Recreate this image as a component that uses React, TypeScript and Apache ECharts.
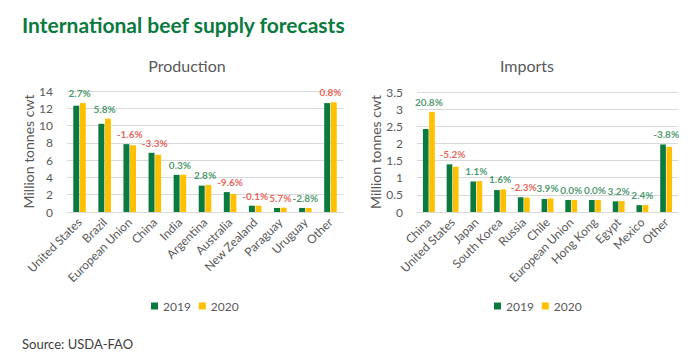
import React, { useEffect, useRef } from "react";
import * as echarts from "echarts";

const productionCategories = ["United States", "Brazil", "European Union", "China", "India", "Argentina", "Australia", "New Zealand", "Paraguay", "Uruguay", "Other"];
const production2019 = [12.3, 10.2, 7.85, 6.85, 4.3, 3.05, 2.3, 0.73, 0.47, 0.47, 12.6];
const production2020 = [12.6, 10.8, 7.72, 6.62, 4.31, 3.13, 2.08, 0.73, 0.5, 0.46, 12.7];
const productionChange = ["2.7%", "5.8%", "-1.6%", "-3.3%", "0.3%", "2.8%", "-9.6%", "-0.1%", "5.7%", "-2.8%", "0.8%"];
const productionChangeGreen = [true, true, false, false, true, true, false, false, false, true, false];

const importCategories = ["China", "United States", "Japan", "South Korea", "Russia", "Chile", "European Union", "Hong Kong", "Egypt", "Mexico", "Other"];
const imports2019 = [2.42, 1.39, 0.89, 0.64, 0.43, 0.38, 0.35, 0.35, 0.31, 0.2, 1.97];
const imports2020 = [2.92, 1.32, 0.9, 0.66, 0.42, 0.395, 0.35, 0.35, 0.32, 0.205, 1.9];
const importChange = ["20.8%", "-5.2%", "1.1%", "1.6%", "-2.3%", "3.9%", "0.0%", "0.0%", "3.2%", "2.4%", "-3.8%"];
const importChangeGreen = [true, false, true, true, false, true, true, true, true, true, true];

const seriesNames = ["2019", "2020"];

const GREEN = "#0a7a3e";
const YELLOW = "#ffc000";
const LABEL_GREEN = "#17804a";
const LABEL_RED = "#e23b30";
const TEXT = "#595959";
const FONT = "Lato, 'Open Sans', sans-serif";

function changeLabels(a: number[], b: number[], texts: string[], green: boolean[]) {
  return a.map((v, i) => ({
    value: Math.max(v, b[i]),
    label: { formatter: texts[i], color: green[i] ? LABEL_GREEN : LABEL_RED },
  }));
}

export default function App() {
  const ref = useRef<HTMLDivElement>(null);
  useEffect(() => {
    if (!ref.current) return;
    const chart = echarts.init(ref.current, undefined, { renderer: "svg" });
    const xAxisCommon = {
      type: "category" as const,
      axisLine: { lineStyle: { color: "#d9d9d9" } },
      axisTick: { show: false },
      axisLabel: { rotate: 45, color: TEXT, fontSize: 12, fontFamily: FONT, margin: 8, interval: 0 },
    };
    const yAxisCommon = {
      type: "value" as const,
      nameLocation: "middle" as const,
      nameTextStyle: { color: TEXT, fontSize: 14, fontFamily: FONT },
      axisLine: { show: false },
      axisTick: { show: false },
      axisLabel: { color: TEXT, fontSize: 12, fontFamily: FONT, margin: 14 },
      splitLine: { lineStyle: { color: "#d9d9d9" } },
    };
    const barCommon = {
      type: "bar" as const,
      barGap: "10%",
      barCategoryGap: "50%",
    };
    const labelScatter = {
      type: "scatter" as const,
      symbolSize: 0,
      silent: true,
      label: {
        show: true,
        position: "top" as const,
        distance: 5,
        fontSize: 10,
        fontWeight: "bold" as const,
        fontFamily: FONT,
      },
    };
    chart.setOption({
      animation: false,
      title: [
        {
          text: "International beef supply forecasts",
          left: 17,
          top: 9,
          textStyle: { color: GREEN, fontSize: 21, fontWeight: "bold", fontFamily: FONT },
        },
        {
          text: "Production",
          left: 182,
          top: 52,
          textAlign: "center",
          textStyle: { color: TEXT, fontSize: 16, fontWeight: "normal", fontFamily: FONT },
        },
        {
          text: "Imports",
          left: 522,
          top: 52,
          textAlign: "center",
          textStyle: { color: TEXT, fontSize: 16, fontWeight: "normal", fontFamily: FONT },
        },
        {
          text: "Source: USDA-FAO",
          left: 17,
          top: 332,
          textStyle: { color: "#404040", fontSize: 13, fontWeight: "normal", fontFamily: FONT },
        },
      ],
      legend: [
        {
          data: seriesNames,
          left: 146,
          top: 295,
          itemWidth: 7,
          itemHeight: 7,
          itemGap: 8,
          icon: "rect",
          textStyle: { color: TEXT, fontSize: 12, fontFamily: FONT },
        },
        {
          data: seriesNames,
          left: 489,
          top: 295,
          itemWidth: 7,
          itemHeight: 7,
          itemGap: 8,
          icon: "rect",
          textStyle: { color: TEXT, fontSize: 12, fontFamily: FONT },
        },
      ],
      grid: [
        { left: 67, top: 91, width: 276, height: 121 },
        { left: 417, top: 92, width: 261, height: 120 },
      ],
      xAxis: [
        { ...xAxisCommon, gridIndex: 0, data: productionCategories },
        { ...xAxisCommon, gridIndex: 1, data: importCategories },
      ],
      yAxis: [
        { ...yAxisCommon, gridIndex: 0, min: 0, max: 14, interval: 2, name: "Million tonnes cwt", nameGap: 30 },
        { ...yAxisCommon, gridIndex: 1, min: 0, max: 3.5, interval: 0.5, name: "Million tonnes cwt", nameGap: 34 },
      ],
      series: [
        { ...barCommon, name: seriesNames[0], xAxisIndex: 0, yAxisIndex: 0, data: production2019, itemStyle: { color: GREEN } },
        { ...barCommon, name: seriesNames[1], xAxisIndex: 0, yAxisIndex: 0, data: production2020, itemStyle: { color: YELLOW } },
        { ...barCommon, name: seriesNames[0], xAxisIndex: 1, yAxisIndex: 1, data: imports2019, itemStyle: { color: GREEN } },
        { ...barCommon, name: seriesNames[1], xAxisIndex: 1, yAxisIndex: 1, data: imports2020, itemStyle: { color: YELLOW } },
        { ...labelScatter, xAxisIndex: 0, yAxisIndex: 0, data: changeLabels(production2019, production2020, productionChange, productionChangeGreen) },
        { ...labelScatter, xAxisIndex: 1, yAxisIndex: 1, data: changeLabels(imports2019, imports2020, importChange, importChangeGreen) },
      ],
    });
    return () => chart.dispose();
  }, []);
  return <div ref={ref} style={{ position: "fixed", left: 0, top: 0, width: 700, height: 357, background: "#fff" }} />;
}
